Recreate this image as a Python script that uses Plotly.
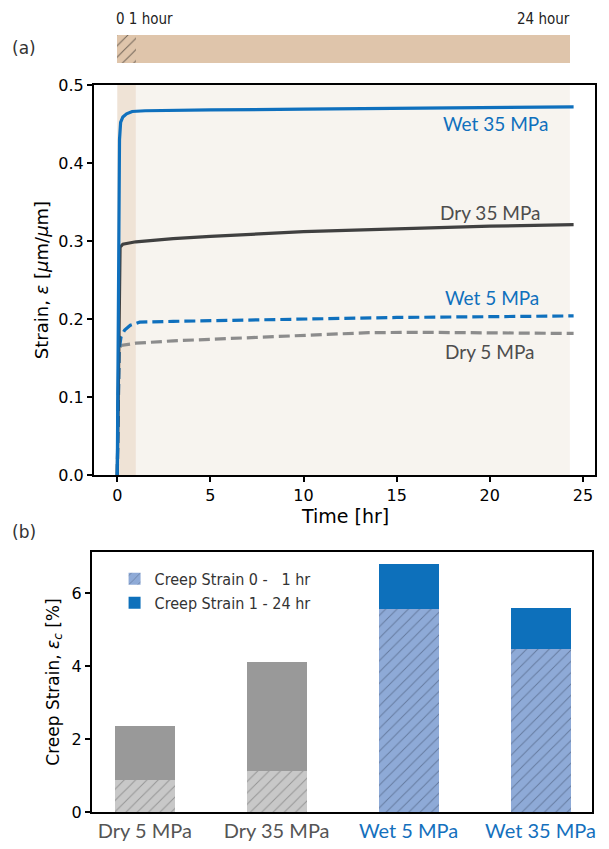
import plotly.graph_objects as go

# ---------------- data ----------------
# (a) strain vs time
t_wet35 = [0, 0.06, 0.12, 0.18, 0.3, 0.5, 0.8, 1.5, 3, 5, 10, 15, 20, 24.5]
s_wet35 = [0, 0.22, 0.43, 0.452, 0.459, 0.463, 0.466, 0.467, 0.467, 0.468, 0.469, 0.470, 0.471, 0.472]

t_dry35 = [0, 0.15, 0.3, 1, 3, 5, 10, 15, 20, 24.5]
s_dry35 = [0, 0.292, 0.296, 0.299, 0.303, 0.306, 0.312, 0.316, 0.319, 0.321]

t_wet5 = [0, 0.1, 0.2, 0.4, 0.7, 1.2, 3, 5, 10, 15, 20, 24.5]
s_wet5 = [0, 0.16, 0.177, 0.186, 0.192, 0.196, 0.197, 0.198, 0.200, 0.202, 0.203, 0.204]

t_dry5 = [0, 0.1, 0.2, 1, 3, 5, 8, 11, 13.5, 16, 19, 22, 24.5]
s_dry5 = [0, 0.16, 0.166, 0.169, 0.172, 0.174, 0.177, 0.180, 0.1825, 0.183, 0.1825, 0.182, 0.1815]

# time-window bar (0-1 hr, 1-24 hr)
window_start = [0, 1]
window_end = [1, 24.3]

# (b) creep strain bars
dry_cats = ["Dry 5 MPa", "Dry 35 MPa"]
wet_cats = ["Wet 5 MPa", "Wet 35 MPa"]
all_cats = dry_cats + wet_cats
dry_0_1 = [0.89, 1.13]
dry_1_24 = [1.46, 2.97]
wet_0_1 = [5.57, 4.47]
wet_1_24 = [1.23, 1.13]

# ---------------- style ----------------
BLUE = "#0f70bd"
DARK = "#404040"
GRAY = "#8c8c8c"
TICKFONT = dict(family="DejaVu Sans", size=16, color="black")
LABFONT = "Lato"

fig = go.Figure()

# time window bar (top)
fig.add_trace(go.Bar(
    y=[0], x=[window_end[0] - window_start[0]], base=[window_start[0]], orientation="h",
    width=1, xaxis="x3", yaxis="y3", showlegend=False, hoverinfo="skip",
    marker=dict(color="#dfc5ab", line=dict(width=0),
                pattern=dict(shape="/", fgcolor="black", size=8, solidity=0.12, fillmode="overlay")),
))
fig.add_trace(go.Bar(
    y=[0], x=[window_end[1] - window_start[1]], base=[window_start[1]], orientation="h",
    width=1, xaxis="x3", yaxis="y3", showlegend=False, hoverinfo="skip",
    marker=dict(color="#dfc5ab", line=dict(width=0)),
))

# strain curves
fig.add_trace(go.Scatter(x=t_dry5, y=s_dry5, mode="lines", showlegend=False,
                         line=dict(color=GRAY, width=3.2, dash="11px,5px")))
fig.add_trace(go.Scatter(x=t_wet5, y=s_wet5, mode="lines", showlegend=False,
                         line=dict(color=BLUE, width=3.2, dash="11px,5px")))
fig.add_trace(go.Scatter(x=t_dry35, y=s_dry35, mode="lines", showlegend=False,
                         line=dict(color=DARK, width=3.2)))
fig.add_trace(go.Scatter(x=t_wet35, y=s_wet35, mode="lines", showlegend=False,
                         line=dict(color=BLUE, width=3.2)))

# creep bars (bottom)
fig.add_trace(go.Bar(x=dry_cats, y=dry_0_1, width=0.455, xaxis="x2", yaxis="y2", showlegend=False,
                     marker=dict(color="#c8c8c8", line=dict(width=0),
                                 pattern=dict(shape="/", fgcolor="#606060", size=8, solidity=0.12,
                                              fillmode="overlay"))))
fig.add_trace(go.Bar(x=wet_cats, y=wet_0_1, width=0.455, xaxis="x2", yaxis="y2",
                     name="Creep Strain 0 -   1 hr", legendgroup="a",
                     marker=dict(color="#8eaad7", line=dict(width=0),
                                 pattern=dict(shape="/", fgcolor="#3a4a66", size=8, solidity=0.12,
                                              fillmode="overlay"))))
fig.add_trace(go.Bar(x=dry_cats, y=dry_1_24, width=0.455, xaxis="x2", yaxis="y2", showlegend=False,
                     marker=dict(color="#999999", line=dict(width=0))))
fig.add_trace(go.Bar(x=wet_cats, y=wet_1_24, width=0.455, xaxis="x2", yaxis="y2",
                     name="Creep Strain 1 - 24 hr", legendgroup="b",
                     marker=dict(color="#0d70bb", line=dict(width=0))))

# shaded time windows in panel (a)
fig.add_vrect(x0=window_start[0], x1=window_end[0], fillcolor="#efe3d6", line_width=0, layer="below",
              xref="x", yref="y")
fig.add_vrect(x0=window_start[1], x1=window_end[1], fillcolor="#f7f4ef", line_width=0, layer="below",
              xref="x", yref="y")

xr = [-1.25, 25.65]
axline = dict(showline=True, linecolor="black", linewidth=2, mirror=True, showgrid=False,
              zeroline=False, automargin=False)

fig.update_layout(
    width=609, height=849,
    margin=dict(l=0, r=0, t=0, b=0, autoexpand=False),
    paper_bgcolor="white", plot_bgcolor="white",
    barmode="stack", bargap=0,
    xaxis=dict(domain=[0.1412, 0.9639], range=xr, tickvals=[0, 5, 10, 15, 20, 25],
               ticks="outside", ticklen=5, tickwidth=2, tickcolor="black", tickfont=TICKFONT,
               anchor="y", **axline),
    yaxis=dict(domain=[0.4499, 0.9093], range=[0, 0.5], tickvals=[0, 0.1, 0.2, 0.3, 0.4, 0.5],
               tickformat=".1f", ticks="outside", ticklen=5, tickwidth=2, tickcolor="black",
               tickfont=TICKFONT, anchor="x",
               title=dict(text="Strain, <i>ε</i> [<i>μ</i>m/<i>μ</i>m]",
                          font=dict(family="DejaVu Sans", size=18, color="black"), standoff=5),
               **axline),
    xaxis2=dict(domain=[0.1379, 0.9589], range=[-0.40, 3.39], anchor="y2",
                tickvals=all_cats,
                ticktext=["<span style='color:#555555'>Dry 5 MPa</span>",
                          "<span style='color:#555555'>Dry 35 MPa</span>",
                          "<span style='color:#1470bd'>Wet 5 MPa</span>",
                          "<span style='color:#1470bd'>Wet 35 MPa</span>"],
                ticks="", tickfont=dict(family=LABFONT, size=20),
                **axline),
    yaxis2=dict(domain=[0.0530, 0.3592], range=[0, 7.13], tickvals=[0, 2, 4, 6], anchor="x2",
                ticks="outside", ticklen=5, tickwidth=2, tickcolor="black", tickfont=TICKFONT,
                title=dict(text="Creep Strain, <i>ε<sub>c</sub></i> [%]",
                           font=dict(family="DejaVu Sans", size=17, color="black"), standoff=8),
                **axline),
    xaxis3=dict(domain=[0.1412, 0.9639], range=xr, anchor="y3", visible=False, matches="x",
                automargin=False),
    yaxis3=dict(domain=[0.9352, 0.9682], range=[-0.5, 0.5], anchor="x3", visible=False,
                automargin=False),
    legend=dict(x=0.175, y=0.3475, xanchor="left", yanchor="top", bgcolor="rgba(0,0,0,0)",
                font=dict(family="DejaVu Sans Condensed", size=16, color="#333333"),
                tracegroupgap=14, traceorder="normal"),
    showlegend=True,
)

# x-axis title of panel (a), placed tight under the tick labels
fig.add_annotation(text="Time [hr]", x=(0.1412 + 0.9639) / 2, y=1 - 508 / 849, xref="paper",
                   yref="paper", xanchor="center", yanchor="middle", showarrow=False,
                   font=dict(family="DejaVu Sans", size=19, color="black"))

anns = [
    dict(text="Wet 35 MPa", x=20.3, y=0.451, color=BLUE),
    dict(text="Dry 35 MPa", x=20.0, y=0.337, color="#4d4d4d"),
    dict(text="Wet 5 MPa", x=20.1, y=0.228, color=BLUE),
    dict(text="Dry 5 MPa", x=20.0, y=0.158, color="#4d4d4d"),
]
for a in anns:
    fig.add_annotation(text=a["text"], x=a["x"], y=a["y"], xref="x", yref="y",
                       showarrow=False, font=dict(family=LABFONT, size=19, color=a["color"]))

fig.add_annotation(text="0 1 hour", x=window_start[0], y=1.0, xref="x3", yref="paper",
                   xanchor="left", yanchor="top", yshift=0, xshift=-3, showarrow=False,
                   font=dict(family="DejaVu Sans Condensed", size=15, color="#222222"))
fig.add_annotation(text="24 hour", x=window_end[1], y=1.0, xref="x3", yref="paper",
                   xanchor="right", yanchor="top", yshift=0, xshift=2, showarrow=False,
                   font=dict(family="DejaVu Sans Condensed", size=15, color="#222222"))
fig.add_annotation(text="(a)", x=0.003, y=1 - 40 / 849, xref="paper", yref="paper",
                   xanchor="left", yanchor="middle", showarrow=False,
                   font=dict(family="DejaVu Sans", size=17, color="#333333"))
fig.add_annotation(text="(b)", x=0.003, y=1 - 524 / 849, xref="paper", yref="paper",
                   xanchor="left", yanchor="middle", showarrow=False,
                   font=dict(family="DejaVu Sans", size=17, color="#333333"))

fig.write_html("out.html")
